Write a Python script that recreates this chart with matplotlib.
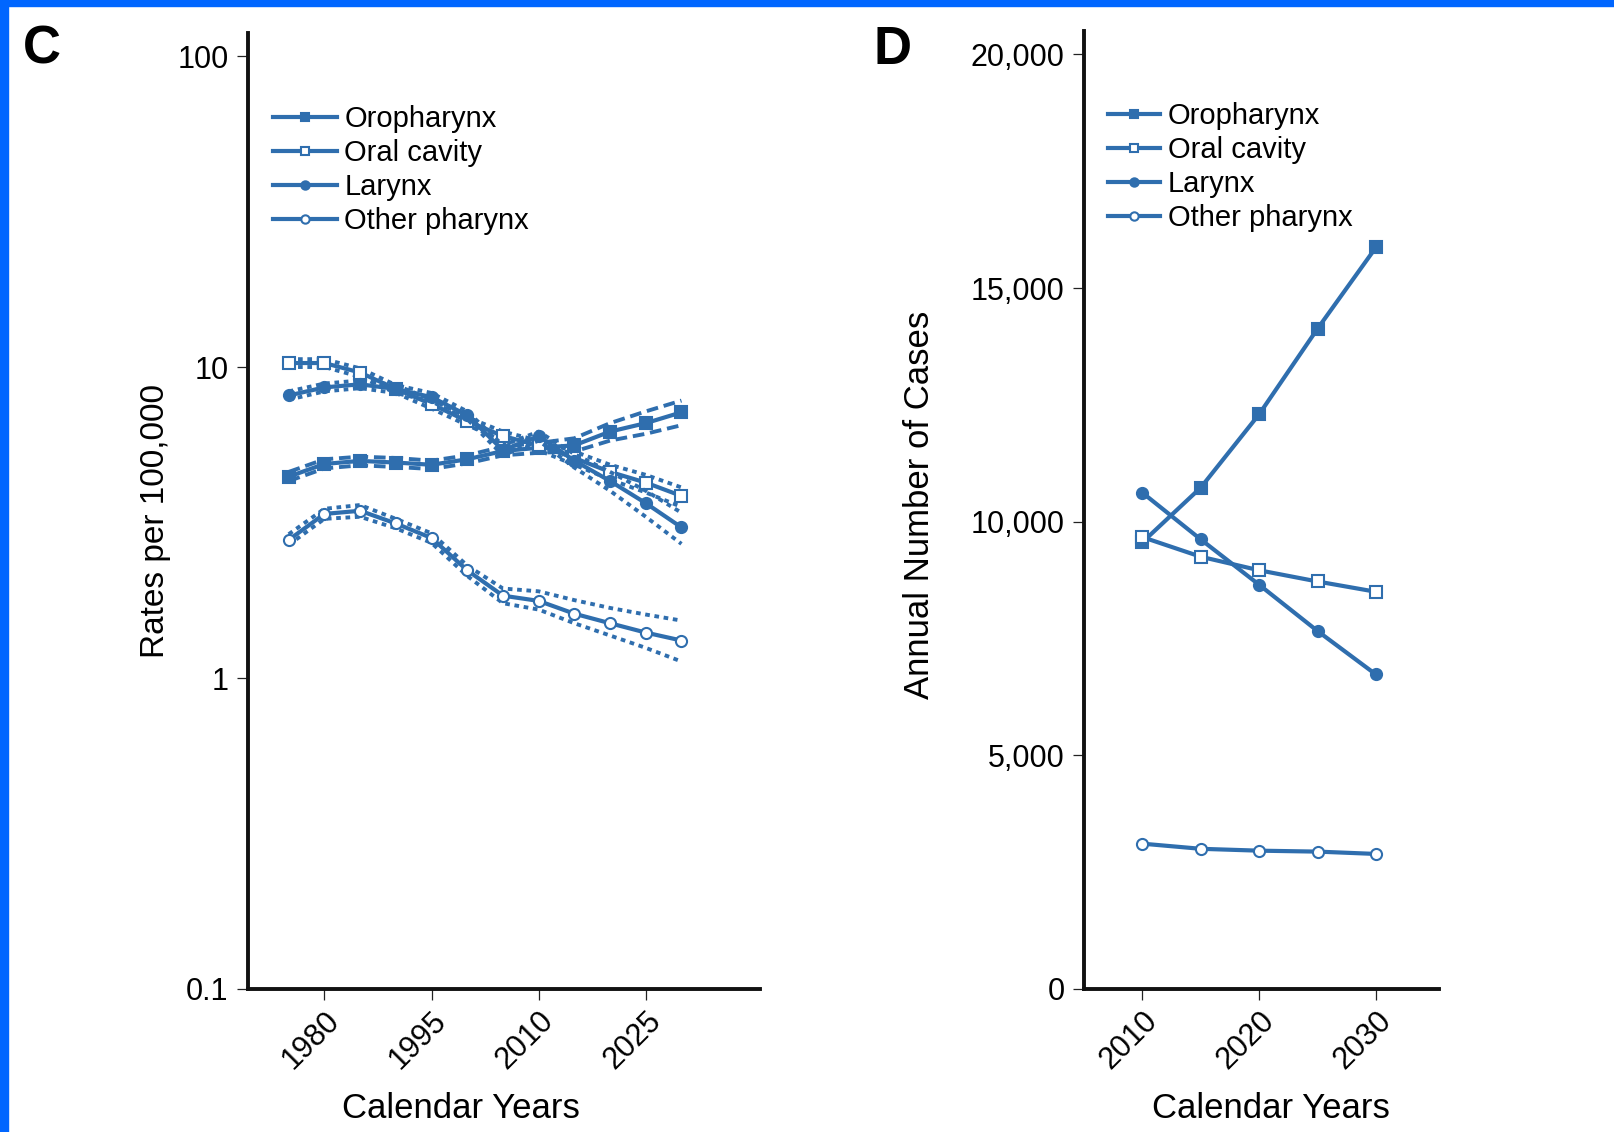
import matplotlib
matplotlib.use('Agg')
import matplotlib.pyplot as plt
from matplotlib.lines import Line2D
from matplotlib.patches import Rectangle
from matplotlib.ticker import FixedLocator, FuncFormatter, NullLocator

plt.rcParams['font.family'] = ['Liberation Sans', 'DejaVu Sans']
NARROW = ['Liberation Sans Narrow', 'Liberation Sans', 'DejaVu Sans']

BLUE = '#2f6eae'

# panel C: rates per 100,000 (log scale)
years_c = [1975, 1980, 1985, 1990, 1995, 2000, 2005, 2010, 2015, 2020, 2025, 2030]
oro_c = [4.44, 4.88, 4.99, 4.93, 4.85, 5.05, 5.37, 5.5, 5.6, 6.2, 6.6, 7.15]
oro_c_hi = [4.6, 5.05, 5.15, 5.1, 5.0, 5.2, 5.55, 5.7, 5.9, 6.6, 7.2, 7.8]
oro_c_lo = [4.3, 4.72, 4.83, 4.77, 4.7, 4.9, 5.2, 5.3, 5.35, 5.8, 6.1, 6.5]
oral_c = [10.3, 10.3, 9.6, 8.5, 7.6, 6.7, 6.0, 5.6, 5.1, 4.6, 4.25, 3.85]
oral_c_hi = [10.6, 10.6, 9.9, 8.75, 7.85, 6.9, 6.2, 5.8, 5.35, 4.85, 4.5, 4.1]
oral_c_lo = [10.0, 10.0, 9.3, 8.25, 7.35, 6.5, 5.8, 5.4, 4.85, 4.35, 3.95, 3.55]
lar_c = [8.1, 8.6, 8.8, 8.5, 8.0, 7.0, 5.4, 6.0, 5.0, 4.3, 3.65, 3.05]
lar_c_hi = [8.35, 8.85, 9.05, 8.75, 8.25, 7.2, 5.6, 6.2, 5.25, 4.6, 4.0, 3.4]
lar_c_lo = [7.85, 8.35, 8.55, 8.25, 7.75, 6.8, 5.2, 5.8, 4.75, 4.0, 3.3, 2.7]
oth_c = [2.78, 3.37, 3.45, 3.14, 2.82, 2.22, 1.84, 1.77, 1.61, 1.50, 1.40, 1.32]
oth_c_hi = [2.9, 3.5, 3.6, 3.25, 2.92, 2.3, 1.94, 1.9, 1.78, 1.68, 1.6, 1.53]
oth_c_lo = [2.68, 3.25, 3.3, 3.03, 2.72, 2.13, 1.74, 1.66, 1.5, 1.37, 1.25, 1.13]

# panel D: annual number of cases
years_d = [2010, 2015, 2020, 2025, 2030]
oro_d = [9560, 10730, 12300, 14130, 15870]
oral_d = [9670, 9250, 8960, 8720, 8500]
lar_d = [10620, 9620, 8650, 7660, 6730]
oth_d = [3110, 3000, 2960, 2940, 2890]

names = ['Oropharynx', 'Oral cavity', 'Larynx', 'Other pharynx']
markers = ['s', 's', 'o', 'o']
faces = [BLUE, 'white', BLUE, 'white']

fig = plt.figure(figsize=(16.15, 11.32), dpi=100)

# blue frame strips
fig.patches.append(Rectangle((0, 1 - 6 / 1132), 1, 6 / 1132, transform=fig.transFigure,
                             color='#0066ff', zorder=10))
fig.patches.append(Rectangle((0, 0), 8 / 1615, 1, transform=fig.transFigure,
                             color='#0066ff', zorder=10))


def style_axes(ax):
    for s in ['top', 'right']:
        ax.spines[s].set_visible(False)
    for s in ['left', 'bottom']:
        ax.spines[s].set_linewidth(2.8)
        ax.spines[s].set_color('#111111')
    ax.tick_params(axis='both', length=8, width=0.9, color='#222222', labelsize=22)
    ax.tick_params(axis='y', pad=6)
    ax.tick_params(axis='x', pad=4)
    for lab in ax.get_xticklabels():
        lab.set_rotation(45)
        lab.set_ha('right')
        lab.set_va('top')
        lab.set_rotation_mode('anchor')


def add_legend(ax, x, y, hlen):
    handles = [Line2D([0], [0], color=BLUE, lw=3, marker=m, markersize=6,
                      markerfacecolor=f, markeredgecolor=BLUE, markeredgewidth=1.5)
               for m, f in zip(markers, faces)]
    ax.legend(handles, names, loc='upper left', bbox_to_anchor=(x, y),
              bbox_transform=fig.transFigure, frameon=False, fontsize=21,
              handlelength=hlen, handletextpad=0.25, labelspacing=0.21,
              borderpad=0, borderaxespad=0)


# ---- panel C ----
axc = fig.add_axes([248 / 1615, 1 - 989 / 1132, (760 - 248) / 1615, (989 - 33) / 1132])
axc.set_yscale('log')
c_main = [oro_c, oral_c, lar_c, oth_c]
c_hi = [oro_c_hi, oral_c_hi, lar_c_hi, oth_c_hi]
c_lo = [oro_c_lo, oral_c_lo, lar_c_lo, oth_c_lo]
bound_styles = [(0, (3, 1.5)), (0, (1.2, 1.2)), (0, (1.2, 1.2)), (0, (1.2, 1.2))]
for main, hi, lo, m, f, ls in zip(c_main, c_hi, c_lo, markers, faces, bound_styles):
    axc.plot(years_c, hi, color=BLUE, lw=2.8, ls=ls)
    axc.plot(years_c, lo, color=BLUE, lw=2.8, ls=ls)
    axc.plot(years_c, main, color=BLUE, lw=3, marker=m, markersize=8,
             markerfacecolor=f, markeredgecolor=BLUE, markeredgewidth=1.5)
axc.set_xlim(1969.3, 2041)
axc.set_ylim(0.1, 118.6)
axc.yaxis.set_major_locator(FixedLocator([0.1, 1, 10, 100]))
axc.yaxis.set_minor_locator(NullLocator())
axc.yaxis.set_major_formatter(FuncFormatter(lambda v, p: '%g' % v))
axc.set_xticks([1980, 1995, 2010, 2025])
style_axes(axc)
axc.set_ylabel('Rates per 100,000', fontsize=24, family=NARROW)
axc.yaxis.set_label_coords(-0.151, 0.49)
axc.set_xlabel('Calendar Years', fontsize=25, family=NARROW)
axc.xaxis.set_label_coords(0.416, -0.108)
add_legend(axc, 273 / 1615, 1 - 105 / 1132, 2.2)

# ---- panel D ----
axd = fig.add_axes([1084 / 1615, 1 - 989 / 1132, (1439 - 1084) / 1615, (989 - 31) / 1132])
for vals, m, f in zip([oro_d, oral_d, lar_d, oth_d], markers, faces):
    axd.plot(years_d, vals, color=BLUE, lw=3, marker=m, markersize=8,
             markerfacecolor=f, markeredgecolor=BLUE, markeredgewidth=1.5)
axd.set_xlim(2005, 2035.4)
axd.set_ylim(0, 20500)
axd.set_yticks([0, 5000, 10000, 15000, 20000])
axd.yaxis.set_major_formatter(FuncFormatter(lambda v, p: '{:,.0f}'.format(v)))
axd.set_xticks([2010, 2020, 2030])
style_axes(axd)
axd.set_ylabel('Annual Number of Cases', fontsize=25, family=NARROW)
axd.yaxis.set_label_coords(-0.417, 0.505)
axd.set_xlabel('Calendar Years', fontsize=25, family=NARROW)
axd.xaxis.set_label_coords(0.527, -0.108)
add_legend(axd, 1108 / 1615, 1 - 102 / 1132, 1.8)

# panel letters
fig.text(23 / 1615, 1 - 25 / 1132, 'C', fontsize=38, fontweight='bold', va='top', ha='left')
fig.text(874 / 1615, 1 - 25 / 1132, 'D', fontsize=38, fontweight='bold', va='top', ha='left')

fig.savefig('out.png', dpi=100)
